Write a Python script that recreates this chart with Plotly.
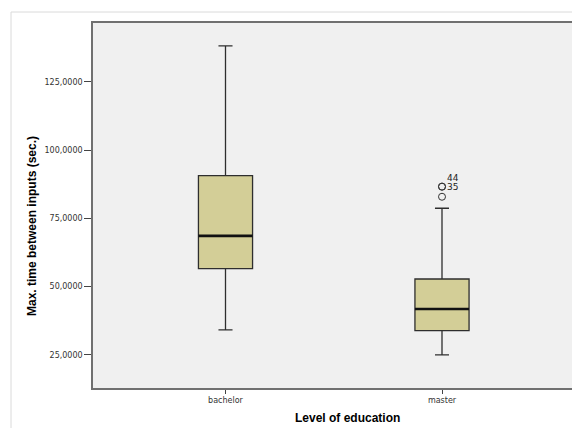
import plotly.graph_objects as go

# ---- data ----
categories = ["bachelor", "master"]
q1_vals = [56.6, 33.9]
median_vals = [68.6, 41.8]
q3_vals = [90.6, 52.8]
lower_whisker = [34.2, 25.0]
upper_whisker = [138.1, 78.7]

outlier_cat = ["master", "master", "master"]
outlier_vals = [82.9, 86.6, 86.6]
outlier_labels = ["", "35", "44"]

y_title = "Max. time between inputs (sec.)"
x_title = "Level of education"

# ---- figure (body margin removed by post_script) ----
W, H = 572, 428
ml, mr, mt = 93, 0, 23
ph = 388 - 23
mb = H - mt - ph
pw = W - ml - mr
cat_px = 216.5  # pixels between category centres
x_lo = -0.612
x_hi = x_lo + pw / cat_px


def px_x(x):  # page pixel -> paper x
    return (x - ml) / pw


def px_y(y):  # page pixel -> paper y
    return (mt + ph - y) / ph


fig = go.Figure()

fig.add_trace(go.Box(
    x=categories, q1=q1_vals, median=median_vals, q3=q3_vals,
    lowerfence=lower_whisker, upperfence=upper_whisker,
    width=0.25, whiskerwidth=0.26,
    fillcolor="#D3CE97", line=dict(color="#2e2e2e", width=1.3),
    boxpoints=False, hoverinfo="skip", showlegend=False,
))
# thick median line drawn as a flat box at the median value
fig.add_trace(go.Box(
    x=categories, q1=median_vals, median=median_vals, q3=median_vals,
    lowerfence=median_vals, upperfence=median_vals,
    width=0.25, whiskerwidth=0.0,
    fillcolor="rgba(0,0,0,0)", line=dict(color="#111111", width=2.6),
    boxpoints=False, hoverinfo="skip", showlegend=False,
))
fig.add_trace(go.Scatter(
    x=outlier_cat, y=outlier_vals, mode="markers",
    marker=dict(symbol="circle-open", size=7, color="#333333", line=dict(width=1)),
    hoverinfo="skip", showlegend=False,
))

annotations = []
stack = {}
for c, v, lab in zip(outlier_cat, outlier_vals, outlier_labels):
    if not lab:
        continue
    k = stack.get((c, v), 0)
    stack[(c, v)] = k + 1
    annotations.append(dict(
        x=c, y=v, xref="x", yref="y", text=lab, showarrow=False,
        xanchor="left", yanchor="middle", xshift=3, yshift=9 * k,
        font=dict(family="DejaVu Sans", size=9, color="#222222"),
    ))

annotations.append(dict(
    x=px_x(347), y=px_y(418), xref="paper", yref="paper",
    text="<b>" + x_title + "</b>", showarrow=False,
    xanchor="center", yanchor="middle",
    font=dict(family="Liberation Sans", size=12, color="#000000"),
))
annotations.append(dict(
    x=px_x(32), y=px_y(226), xref="paper", yref="paper",
    text="<b>" + y_title + "</b>", showarrow=False, textangle=-90,
    xanchor="center", yanchor="middle",
    font=dict(family="Liberation Sans", size=12, color="#000000"),
))

x0f = px_x(11)
y0f = px_y(12)
ybot = px_y(430)
shapes = [
    dict(type="line", xref="paper", yref="paper", x0=x0f, x1=1.05, y0=y0f, y1=y0f,
         line=dict(color="#DADADA", width=1)),
    dict(type="line", xref="paper", yref="paper", x0=x0f, x1=x0f, y0=y0f, y1=ybot,
         line=dict(color="#DADADA", width=1)),
]

fig.update_layout(
    width=W, height=H,
    margin=dict(l=ml, r=mr, t=mt, b=mb, pad=0),
    paper_bgcolor="white", plot_bgcolor="#F0F0F0",
    boxmode="overlay",
    separators=", ",
    annotations=annotations, shapes=shapes,
    xaxis=dict(
        type="category", range=[x_lo, x_hi], showgrid=False, zeroline=False,
        showline=True, linecolor="#707070", linewidth=1.5, mirror=True,
        ticks="outside", ticklen=4, tickcolor="#444444", tickwidth=1,
        tickfont=dict(family="DejaVu Sans", size=8, color="#333333"),
    ),
    yaxis=dict(
        range=[12.9, 146.5], tick0=0, dtick=25, tickformat=".4f",
        showgrid=False, zeroline=False,
        showline=True, linecolor="#707070", linewidth=1.5,
        ticks="outside", ticklen=7, tickcolor="#444444", tickwidth=1,
        tickfont=dict(family="DejaVu Sans", size=8, color="#333333"),
    ),
)

fig.write_html(
    "out.html",
    config={"displayModeBar": False},
    post_script="document.body.style.margin='0';document.body.style.overflow='hidden';",
)
